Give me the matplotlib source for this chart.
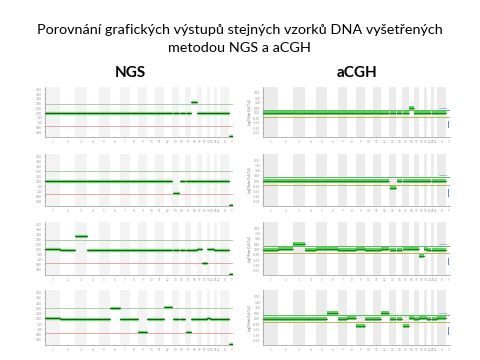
import numpy as np
import matplotlib.pyplot as plt

plt.rcParams['font.family'] = ['Lato', 'DejaVu Sans']

# chromosome sizes (Mb)
chroms = [str(i) for i in range(1, 23)] + ['X', 'Y']
chrom_len = [249, 243, 198, 191, 181, 171, 159, 146, 141, 136, 135, 134,
             115, 107, 103, 90, 81, 78, 59, 63, 48, 51, 155, 59]
acrocentric = ['13', '14', '15', '21', '22']

# NGS copy number per chromosome, one list per sample
ngs_1 = [2.0, 2.02, 1.98, 2.0, 2.0, 1.98, 2.0, 2.0, 2.02, 1.98, 2.0, 2.0,
         2.0, 2.02, 2.0, 2.95, 2.0, 1.98, 2.02, 2.05, 1.98, 2.0, 2.0, 0.05]
ngs_2 = [2.02, 2.0, 2.02, 2.05, 2.02, 2.0, 2.0, 2.02, 2.0, 1.98, 2.0, 2.0,
         1.02, 2.0, 2.0, 2.0, 2.02, 2.0, 2.0, 1.98, 2.02, 2.05, 2.05, 0.05]
ngs_3 = [2.05, 2.0, 3.1, 2.0, 2.0, 2.0, 2.02, 1.98, 2.0, 2.02, 2.0, 2.0,
         2.0, 2.02, 2.0, 2.0, 2.05, 0.95, 2.1, 2.05, 2.0, 2.0, 2.0, 0.05]
ngs_4 = [2.05, 2.0, 2.0, 2.02, 2.02, 2.85, 1.98, 2.0, 1.02, 2.0, 2.0, 2.9,
         2.0, 1.98, 1.02, 2.0, 2.02, 2.02, 2.05, 2.02, 2.0, 2.0, 2.0, 0.05]

# aCGH log2 ratio per chromosome
acgh_1 = [0.0, 0.02, 0.0, -0.03, 0.0, 0.0, 0.02, 0.0, 0.0, 0.0, 0.02, 0.0,
          0.0, 0.0, 0.03, 0.5, 0.0, 0.0, 0.02, 0.0, 0.0, 0.0, 0.0, -1.1]
acgh_2 = [0.0, 0.02, 0.0, 0.0, 0.02, 0.02, 0.05, 0.0, 0.02, 0.0, 0.0, 0.02,
          -0.7, 0.0, 0.0, 0.02, 0.05, 0.0, 0.02, 0.0, 0.0, 0.0, 0.0, -1.1]
acgh_3 = [0.0, 0.02, 0.55, 0.0, 0.02, 0.05, 0.0, 0.0, 0.02, 0.0, 0.0, 0.02,
          0.0, 0.0, 0.02, 0.05, 0.1, -0.6, 0.05, 0.0, 0.0, 0.0, 0.0, -1.1]
acgh_4 = [0.0, 0.0, 0.0, 0.0, 0.0, 0.55, 0.0, 0.02, -0.65, 0.0, 0.0, 0.55,
          0.0, 0.0, -0.7, 0.05, 0.0, 0.02, 0.02, 0.0, 0.0, 0.0, 0.05, -1.1]

ngs_rows = [ngs_1, ngs_2, ngs_3, ngs_4]
acgh_rows = [acgh_1, acgh_2, acgh_3, acgh_4]

ngs_yticks = [0.4, 0.8, 1.2, 1.6, 2.0, 2.4, 2.8, 3.2, 3.6, 4.0]
acgh_yticks = [-2.0, -1.5, -1.0, -0.5, 0.0, 0.5, 1.0, 1.5, 2.0]

starts = np.concatenate([[0], np.cumsum(chrom_len)[:-1]])
ends = np.cumsum(chrom_len)
total = ends[-1]
centers = (starts + ends) / 2

fig = plt.figure(figsize=(4.8, 3.6), dpi=100)
fig.text(0.5, 1 - 30 / 360, 'Porovnání grafických výstupů stejných vzorků DNA vyšetřených',
         ha='center', va='center', fontsize=10.4)
fig.text(0.5, 1 - 48 / 360, 'metodou NGS a aCGH', ha='center', va='center', fontsize=10.4)
fig.text(130 / 480, 1 - 73 / 360, 'NGS', ha='center', va='center', fontsize=11, weight='bold')
fig.text(357 / 480, 1 - 73 / 360, 'aCGH', ha='center', va='center', fontsize=11, weight='bold')

row_top = [87, 154, 222, 290]
row_bot = [137, 206, 275, 345]


def seg_start(i):
    # no data on short arm of acrocentric chromosomes
    if chroms[i] in acrocentric:
        return starts[i] + 0.15 * chrom_len[i]
    return starts[i]


def style_axes(ax, yticks, band_color):
    for i in range(0, len(chroms), 2):
        ax.axvspan(starts[i], ends[i], color=band_color, lw=0, zorder=0)
    ax.set_xlim(0, total)
    ax.set_xticks(centers)
    ax.set_xticklabels(chroms, fontsize=2.2, color='#666666')
    ax.set_yticks(yticks)
    ax.set_yticklabels(['%.2f' % t for t in yticks], fontsize=2.2, color='#666666')
    ax.tick_params(length=1, width=0.3, pad=1, colors='#999999')
    for s in ['top', 'right']:
        ax.spines[s].set_visible(False)
    for s in ['left', 'bottom']:
        ax.spines[s].set_linewidth(0.5)
        ax.spines[s].set_color('#999999')


for r in range(4):
    top = 1 - row_top[r] / 360
    h = (row_bot[r] - row_top[r]) / 360

    # NGS panel
    ax = fig.add_axes([45 / 480, top - h, 188 / 480, h])
    style_axes(ax, ngs_yticks, '#f3f3f3')
    ax.set_ylim(0, 4.2)
    ax.axhline(2.8, color='#9cc89c', lw=0.6, zorder=1)
    ax.axhline(0.95, color='#e49a9a', lw=0.6, zorder=1)
    for i, v in enumerate(ngs_rows[r]):
        x0 = seg_start(i)
        ax.plot([x0, ends[i]], [v, v], color='#6cd86c', lw=2.4, solid_capstyle='butt', zorder=2)
        ax.plot([x0, ends[i]], [v, v], color='#1a3a1a', lw=0.6, zorder=3)

    # aCGH panel
    ax = fig.add_axes([263 / 480, top - h, 187 / 480, h])
    style_axes(ax, acgh_yticks, '#ebebeb')
    ax.set_ylim(-2.4, 2.6)
    ax.set_ylabel('Log2 Ratio (Cy5/Cy3)', fontsize=2, color='#666666', labelpad=1)
    ax.axhline(0.35, color='#3cb43c', lw=0.6, zorder=1)
    ax.axhline(-0.35, color='#b8a640', lw=0.6, zorder=1)
    vals = acgh_rows[r]
    for i, v in enumerate(vals[:-1]):
        x0 = seg_start(i)
        ax.plot([x0, ends[i]], [v, v], color='#55d055', lw=2.8, solid_capstyle='butt', zorder=2)
        ax.plot([x0, ends[i]], [v, v], color='#1f6f1f', lw=0.6, zorder=3)
    # sex chromosomes
    ax.plot([starts[-2] + 40, ends[-2]], [0.55, 0.55], color='#a0b0c8', lw=0.6, zorder=3)
    ax.plot([centers[-1], centers[-1]], [vals[-1] + 0.3, vals[-1] - 0.3], color='#6a8ac0', lw=0.8, zorder=3)

fig.savefig('out.png', dpi=100)
